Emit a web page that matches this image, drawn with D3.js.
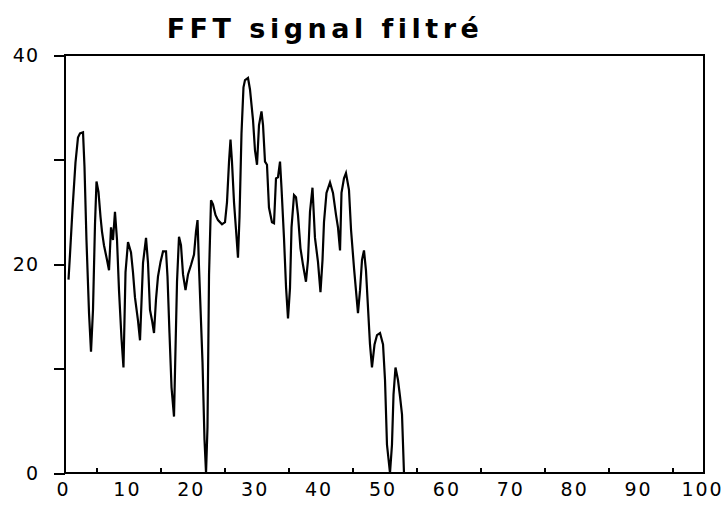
<!DOCTYPE html>
<html>
<head>
<meta charset="utf-8">
<script src="https://cdn.jsdelivr.net/npm/d3@7"></script>
<style>
  html, body { margin: 0; padding: 0; background: #fff; }
  svg { display: block; }
</style>
</head>
<body>
<svg id="chart" width="726" height="507"></svg>
<script>
const title = "FFT signal filtré";

// Frequency (x) of each vertex of the trace
const freq = [
  0.55, 0.78, 1.17, 1.64, 2.03, 2.35, 2.82, 3.05, 3.36, 3.76,
  4.07, 4.38, 4.69, 4.93, 5.24, 5.56, 5.79, 6.10, 6.57, 6.89,
  7.20, 7.51, 7.82, 8.14, 8.45, 8.84, 9.15, 9.47, 9.86, 10.33,
  10.64, 10.95, 11.42, 11.74, 12.21, 12.68, 12.99, 13.30, 13.62, 13.93,
  14.24, 14.55, 14.95, 15.34, 15.81, 16.04, 16.35, 16.67, 17.06, 17.21,
  17.53, 17.84, 18.15, 18.47, 18.86, 19.25, 19.72, 20.19, 20.50, 20.74,
  20.97, 21.52, 21.83, 22.07, 22.30, 22.54, 22.85, 23.16, 23.55, 23.94,
  24.57, 25.04, 25.35, 25.67, 25.90, 26.13, 26.45, 26.76, 27.07, 27.31,
  27.62, 27.93, 28.17, 28.64, 28.95, 29.42, 29.73, 30.05, 30.36, 30.75,
  30.99, 31.30, 31.61, 31.92, 32.39, 32.71, 33.02, 33.33, 33.65, 33.88,
  34.27, 34.59, 34.90, 35.21, 35.45, 35.84, 36.15, 36.46, 36.85, 37.25,
  37.71, 38.03, 38.34, 38.73, 39.12, 39.59, 39.98, 40.30, 40.53, 40.92,
  41.47, 41.94, 42.41, 42.72, 43.04, 43.27, 43.66, 43.97, 44.44, 44.76,
  45.23, 45.46, 45.85, 46.17, 46.48, 46.79, 47.10, 47.42, 47.73, 48.04,
  48.44, 48.83, 49.30, 49.77, 50.08, 50.39, 50.86, 51.17, 51.41, 51.72,
  52.11, 52.43, 52.74, 53.05
];

// Amplitude (y) of each vertex
const amplitude = [
  18.5, 20.9, 25.2, 29.7, 32.1, 32.5, 32.6, 29.3, 22.3, 15.3,
  11.6, 15.6, 23.7, 27.9, 26.9, 24.5, 23.1, 21.8, 20.4, 19.4,
  23.5, 22.3, 25.0, 22.3, 17.5, 12.9, 10.1, 19.2, 22.1, 21.1,
  19.2, 16.8, 14.6, 12.7, 20.1, 22.5, 20.1, 15.6, 14.6, 13.4,
  16.6, 18.8, 20.2, 21.2, 21.2, 18.8, 13.4, 8.2, 5.4, 9.6,
  18.3, 22.6, 21.8, 19.0, 17.5, 19.0, 19.9, 20.9, 23.1, 24.2,
  19.7, 10.6, 3.2, 0.0, 4.4, 19.0, 26.1, 25.7, 24.7, 24.2,
  23.8, 24.0, 25.9, 29.8, 31.9, 29.8, 25.9, 23.3, 20.6, 24.5,
  32.5, 36.9, 37.6, 37.8, 36.7, 33.8, 30.9, 29.5, 33.3, 34.6,
  33.3, 29.8, 29.5, 25.4, 24.0, 23.9, 28.2, 28.3, 29.8, 27.3,
  22.5, 17.8, 14.8, 17.7, 23.5, 26.6, 26.4, 24.7, 21.5, 19.9,
  18.3, 20.4, 25.0, 27.3, 22.5, 20.2, 17.3, 20.4, 24.0, 26.8,
  27.8, 26.8, 24.7, 23.5, 21.3, 26.8, 28.2, 28.7, 27.1, 23.3,
  19.6, 18.0, 15.3, 17.5, 20.4, 21.3, 19.4, 15.8, 12.3, 10.1,
  12.3, 13.2, 13.4, 12.3, 8.9, 2.7, 0.0, 2.7, 7.5, 10.1,
  8.9, 7.3, 5.6, 0.0
];

const xDomain = [0, 100];
const yDomain = [0, 40];
const xLabelTicks = [0, 10, 20, 30, 40, 50, 60, 70, 80, 90, 100];
const xMinorTicks = [5, 15, 25, 35, 45, 55, 65, 75, 85, 95];
const yTicks = [0, 10, 20, 30, 40];
const yLabels = [0, 20, 40];

const svg = d3.select("#chart");
const mLeft = 65, mRight = 704, mTop = 55, mBottom = 473;

const x = d3.scaleLinear().domain(xDomain).range([mLeft, mRight]);
const y = d3.scaleLinear().domain(yDomain).range([mBottom, mTop]);

const font = "'DejaVu Sans', Verdana, sans-serif";

// Title
svg.append("text")
  .attr("x", 325)
  .attr("y", 38)
  .attr("text-anchor", "middle")
  .attr("font-family", font)
  .attr("font-weight", "bold")
  .attr("font-size", 27)
  .attr("letter-spacing", "4.5px")
  .attr("fill", "#000")
  .text(title);

// Data line
const pts = freq.map((f, i) => [f, amplitude[i]]);
svg.append("path")
  .datum(pts)
  .attr("fill", "none")
  .attr("stroke", "#000")
  .attr("stroke-width", 2.2)
  .attr("stroke-linejoin", "miter")
  .attr("d", d3.line().x(d => x(d[0])).y(d => y(d[1])));

// Y axis (outward ticks, labels every other tick)
const yAxis = svg.append("g")
  .attr("transform", `translate(${mLeft},0)`)
  .call(d3.axisLeft(y).tickValues(yTicks).tickSize(11).tickPadding(15)
    .tickFormat(d => yLabels.includes(d) ? String(d) : ""));
yAxis.select(".domain").remove();
yAxis.selectAll(".tick line").attr("stroke", "#000").attr("stroke-width", 2)
  .attr("shape-rendering", "crispEdges");
yAxis.selectAll(".tick text")
  .attr("font-family", font)
  .attr("font-size", 19)
  .attr("letter-spacing", "1px")
  .attr("fill", "#000");

// X axis labels (no ticks at labels)
const xAxis = svg.append("g")
  .attr("transform", `translate(0,${mBottom})`)
  .call(d3.axisBottom(x).tickValues(xLabelTicks).tickSize(0).tickPadding(10));
xAxis.select(".domain").remove();
xAxis.selectAll(".tick text")
  .attr("font-family", font)
  .attr("font-size", 19)
  .attr("letter-spacing", "2px")
  .attr("dx", -2)
  .attr("fill", "#000");

// X minor ticks (inward)
const xMinor = svg.append("g")
  .attr("transform", `translate(0,${mBottom})`)
  .call(d3.axisBottom(x).tickValues(xMinorTicks).tickSize(-5).tickFormat(""));
xMinor.select(".domain").remove();
xMinor.selectAll(".tick line").attr("stroke", "#000").attr("stroke-width", 2)
  .attr("shape-rendering", "crispEdges");

// Frame
svg.append("rect")
  .attr("x", mLeft)
  .attr("y", mTop)
  .attr("width", mRight - mLeft)
  .attr("height", mBottom - mTop)
  .attr("fill", "none")
  .attr("stroke", "#000")
  .attr("stroke-width", 2)
  .attr("shape-rendering", "crispEdges");
</script>
</body>
</html>
